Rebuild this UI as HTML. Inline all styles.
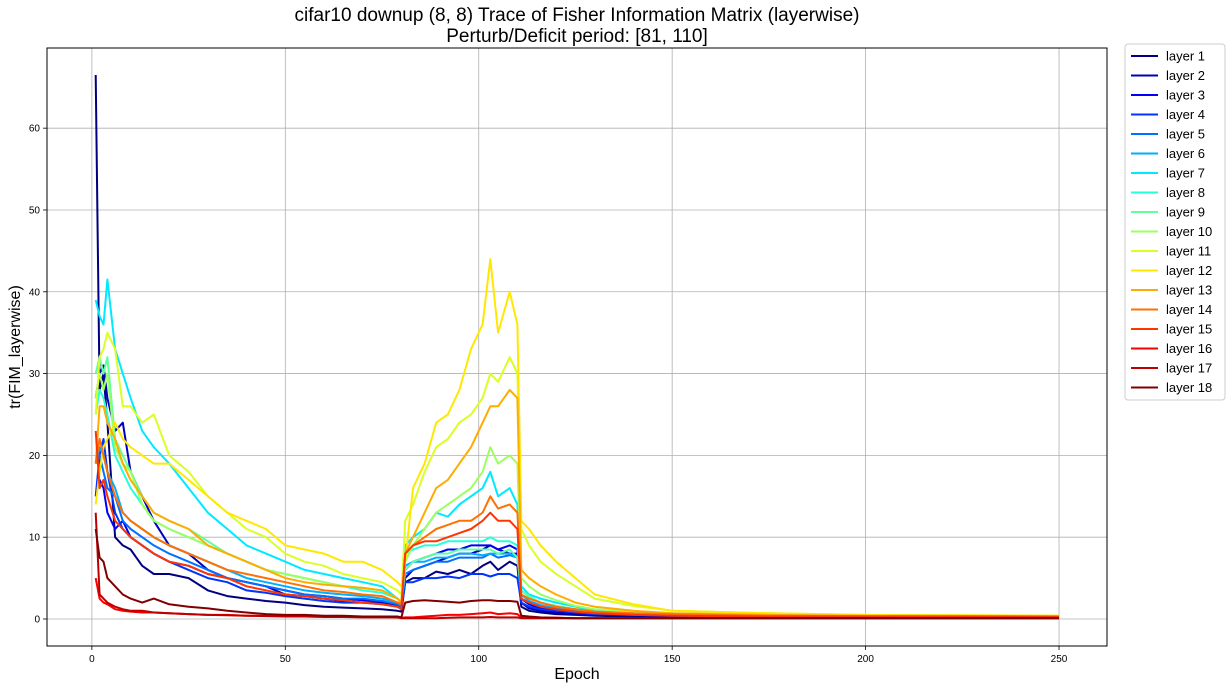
<!DOCTYPE html>
<html><head><meta charset="utf-8"><style>
body{margin:0;background:#fff;font-family:"Liberation Sans",sans-serif}
svg text{font-family:"Liberation Sans",sans-serif}
</style></head><body>
<svg id="chart" width="1231" height="689" xmlns="http://www.w3.org/2000/svg">
<text x="577" y="21" text-anchor="middle" font-size="19">cifar10 downup (8, 8) Trace of Fisher Information Matrix (layerwise)</text>
<text x="577" y="42" text-anchor="middle" font-size="19">Perturb/Deficit period: [81, 110]</text>
<text x="577" y="679" text-anchor="middle" font-size="16">Epoch</text>
<text transform="translate(20,347) rotate(-90)" text-anchor="middle" font-size="16">tr(FIM_layerwise)</text>
<g id="grid"></g><g id="series"></g><g id="axes"></g><g id="legend"></g>
</svg>
<script>
const epochs=[1,2,3,4,6,8,10,13,16,20,25,30,35,40,45,50,55,60,65,70,75,79,80,81,83,86,89,92,95,98,101,103,105,108,110,111,113,116,120,125,130,140,150,175,200,250];
const layer1=[66.5,28,30,24,10,9,8.5,6.5,5.5,5.5,5,3.5,2.8,2.5,2.2,2,1.7,1.5,1.4,1.3,1.2,1,0.9,4.5,5,5,5.8,5.5,6,5.5,6.5,7,6,7,6.5,1.5,1,0.8,0.6,0.5,0.4,0.3,0.3,0.2,0.2,0.15];
const layer2=[27,30,31,27,23,24,18,15,12,9,8,6,5,4.5,4,3,2.8,2.5,2.2,2,2,1.5,1.2,5,6,6.5,7,7.5,8,8,8.5,9,8.5,8,8,2,1.3,1,0.8,0.6,0.5,0.4,0.3,0.25,0.2,0.2];
const layer3=[15,17,16,13,11,12,10,9,8,7,6.5,5.5,5,4.5,4,3.5,3,2.8,2.5,2.3,2.2,1.7,1.5,6,7,7.5,8,8.5,8.5,9,9,9,8.5,9,8.5,2.5,1.8,1.3,1,0.8,0.6,0.5,0.4,0.3,0.25,0.2];
const layer4=[15,20,22,18,13,11,10,9,8,7,6,5,4.5,3.5,3.2,2.8,2.5,2.2,2,2,1.8,1.5,1.2,4.5,4.5,5,5,5.2,5,5.5,5.5,5.2,5.5,5.5,5,2,1.5,1.2,1,0.8,0.6,0.5,0.4,0.3,0.25,0.2];
const layer5=[19,20,18,16,15,12,11,10,9,8,7,6,5,4.5,4,3.5,3,2.8,2.5,2.5,2.2,1.8,1.5,5.5,6,6.5,7,7,7.5,7.5,7.5,8,7.5,7.8,7.5,2.5,2,1.5,1.2,1,0.8,0.6,0.5,0.35,0.3,0.25];
const layer6=[19,21,20,18,16,13,12,11,10,9,8,7,6,5,4.5,4,3.5,3.2,3,2.8,2.5,2,1.8,6.5,7,7,7.5,7.5,8,8,7.8,8,8,8,7.5,3,2.2,1.7,1.3,1,0.8,0.6,0.5,0.4,0.3,0.3];
const layer7=[39,37,36,41.5,33,30,27,23,21,19,16,13,11,9,8,7,6,5.5,5,4.5,4,2.5,2,9,10,11,13,12.5,14,15,16,18,15,16,14,4,3,2.5,2,1.5,1,0.8,0.6,0.4,0.35,0.3];
const layer8=[25,28,27,25,20,18,16,14,12,11,10,9,8,7,6,5.5,5,4.5,4,3.5,3.2,2.5,2,8,8.5,9,9,9.5,9.5,9.5,9.5,10,9.5,9.5,9,3.5,2.7,2,1.6,1.2,0.9,0.7,0.6,0.4,0.35,0.3];
const layer9=[30,32,30,32,22,20,18,15,13,12,11,9.5,8,7,6,5.5,5,4.5,4,3.8,3.5,2.5,2,6,7,7.5,8,8,8.5,8.5,8.5,8.5,8,8.5,7.5,3.5,2.8,2,1.6,1.2,0.9,0.7,0.6,0.45,0.4,0.3];
const layer10=[27,30,28,30,21,19,18,14,12,11,10,9,8,7,6,5.5,5,4.5,4,3.8,3.5,2.5,2,7,9,11,13,14,15,16,18,21,19,20,19,5,4,3,2.3,1.6,1.2,0.9,0.7,0.5,0.4,0.35];
const layer11=[25,32,33,35,33,26,26,24,25,20,18,15,13,11,10,8,7,6.5,5.5,5,4.5,3.5,3,12,14,18,21,22,24,25,27,30,29,32,30,11,9,7,5.5,4,2.5,1.6,1,0.7,0.5,0.4];
const layer12=[14,18,21,22,24,22,21,20,19,19,17,15,13,12,11,9,8.5,8,7,7,6,4.5,4,7,16,19,24,25,28,33,36,44,35,40,36,12,11,9,7,5,3,1.8,1,0.7,0.5,0.4];
const layer13=[19,26,26,24,22,19,17,15,13,12,11,9,8,7,6,5,4.5,4.2,4,3.8,3.5,2.5,2,8,10,13,16,17,19,21,24,26,26,28,27,6,5,4,3,2,1.5,1,0.7,0.5,0.4,0.35];
const layer14=[19,22,20,18,15,13,12,11,10,9,8,7,6,5.5,5,4.5,4,3.5,3.3,3,2.8,2,1.8,8,9,10,11,11.5,12,12,13,15,13.5,14,13,3,2.5,2,1.5,1.2,0.9,0.7,0.6,0.4,0.35,0.3];
const layer15=[23,16,17,15,12,11,10,9,8,7,6.5,5.5,5,4,3.5,3,2.8,2.5,2.3,2,1.8,1.5,1.2,8,9,9.5,9.5,10,10.5,11,12,13,12,12,11,2.5,2,1.5,1.2,0.9,0.7,0.5,0.4,0.3,0.3,0.25];
const layer16=[5,2.5,2,1.8,1.2,1,0.9,0.8,0.8,0.7,0.6,0.5,0.5,0.4,0.4,0.4,0.3,0.3,0.3,0.3,0.3,0.2,0.15,0.2,0.2,0.3,0.4,0.5,0.5,0.6,0.7,0.8,0.6,0.7,0.6,0.2,0.2,0.15,0.15,0.1,0.1,0.1,0.1,0.1,0.1,0.1];
const layer17=[13,3,2.5,2,1.5,1.2,1,1,0.8,0.7,0.6,0.5,0.45,0.4,0.35,0.3,0.3,0.25,0.25,0.2,0.2,0.2,0.1,0.1,0.1,0.1,0.1,0.15,0.2,0.2,0.2,0.25,0.2,0.2,0.2,0.1,0.1,0.1,0.1,0.1,0.1,0.1,0.1,0.1,0.1,0.1];
const layer18=[11,7.5,7,5,4,3,2.5,2,2.5,1.8,1.5,1.3,1,0.8,0.6,0.5,0.5,0.4,0.4,0.3,0.3,0.3,0.2,2,2.2,2.3,2.2,2.1,2,2.2,2.3,2.3,2.2,2.2,2.1,0.4,0.3,0.2,0.15,0.1,0.1,0.1,0.1,0.1,0.1,0.1];
const seriesValues=[layer1,layer2,layer3,layer4,layer5,layer6,layer7,layer8,layer9,layer10,layer11,layer12,layer13,layer14,layer15,layer16,layer17,layer18];
const layerNames=["layer 1","layer 2","layer 3","layer 4","layer 5","layer 6","layer 7","layer 8","layer 9","layer 10","layer 11","layer 12","layer 13","layer 14","layer 15","layer 16","layer 17","layer 18"];
const xTicks=[0,50,100,150,200,250];
const yTicks=[0,10,20,30,40,50,60];

const NS="http://www.w3.org/2000/svg";
const L=47,R=1107,T=48,B=646;
const xMin=-11.6,xMax=262.4,yMin=-3.3,yMax=69.8;
const xs=v=>L+(v-xMin)/(xMax-xMin)*(R-L);
const ys=v=>B-(v-yMin)/(yMax-yMin)*(B-T);
function mk(tag,attrs,parent){const e=document.createElementNS(NS,tag);for(const k in attrs)e.setAttribute(k,attrs[k]);parent.appendChild(e);return e;}
function jet(x){const c=v=>Math.round(255*Math.max(0,Math.min(1,v)));return `rgb(${c(1.5-Math.abs(4*x-3))},${c(1.5-Math.abs(4*x-2))},${c(1.5-Math.abs(4*x-1))})`;}
const grid=document.getElementById('grid'),axes=document.getElementById('axes'),ser=document.getElementById('series'),leg=document.getElementById('legend');
xTicks.forEach(t=>{
  const g=mk('line',{x1:xs(t),x2:xs(t),y1:T,y2:B,stroke:'#b0b0b0','stroke-width':0.8},grid);
  
  
  mk('line',{x1:xs(t),x2:xs(t),y1:B,y2:B+4,stroke:'#000','stroke-width':0.8},axes);
  const tx=mk('text',{x:xs(t),y:B+16,'text-anchor':'middle','font-size':10},axes);tx.textContent=t;
  
  
});
yTicks.forEach(t=>{
  const g=mk('line',{x1:L,x2:R,y1:ys(t),y2:ys(t),stroke:'#b0b0b0','stroke-width':0.8},grid);
  
  
  mk('line',{x1:L-4,x2:L,y1:ys(t),y2:ys(t),stroke:'#000','stroke-width':0.8},axes);
  const tx=mk('text',{x:L-7,y:ys(t)+3.5,'text-anchor':'end','font-size':10},axes);tx.textContent=t;
  
  
});
const frame=mk('rect',{x:L,y:T,width:R-L,height:B-T,fill:'none',stroke:'#000','stroke-width':1},axes);


seriesValues.forEach((vals,i)=>{
  const d=vals.map((v,j)=>(j?'L':'M')+xs(epochs[j]).toFixed(1)+','+ys(v).toFixed(1)).join('');
  const p=mk('path',{d:d,fill:'none',stroke:jet(i/17),'stroke-width':2,'stroke-linejoin':'round'},ser);
  
  
});
const lb=mk('rect',{x:1125,y:44,width:100,height:356,rx:3,fill:'#fff',stroke:'#ccc','stroke-width':1},leg);


layerNames.forEach((n,i)=>{
  const y=56+i*19.5;
  const g=mk('g',{},leg);
  
  
  mk('line',{x1:1131,x2:1158,y1:y,y2:y,stroke:jet(i/17),'stroke-width':2},g);
  const t=mk('text',{x:1166,y:y+4.5,'font-size':13},g);t.textContent=n;
});
</script>
</body></html>
